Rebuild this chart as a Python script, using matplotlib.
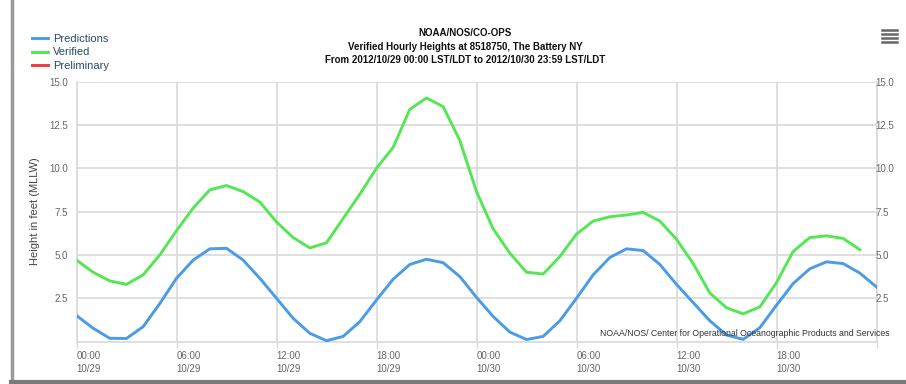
import pandas as pd
import matplotlib
matplotlib.use("Agg")
import matplotlib.pyplot as plt
import matplotlib.dates as mdates
from matplotlib.lines import Line2D

# hourly times, 2012/10/29 00:00 .. 2012/10/31 00:00
times = pd.date_range("2012-10-29 00:00", periods=49, freq="h")

# predicted tide (ft, MLLW)
predictions = [1.5, 0.77, 0.19, 0.18, 0.86, 2.2, 3.65, 4.7, 5.35, 5.38, 4.7, 3.65, 2.5,
               1.34, 0.48, 0.05, 0.3, 1.15, 2.4, 3.6, 4.45, 4.75, 4.55, 3.75, 2.55,
               1.45, 0.55, 0.12, 0.3, 1.2, 2.5, 3.85, 4.85, 5.35, 5.25, 4.45, 3.3,
               2.25, 1.2, 0.38, 0.13, 0.8, 2.1, 3.35, 4.2, 4.6, 4.5, 3.95, 3.15]

# verified hourly heights (ends at 23:00 10/30)
verified = [4.7, 4.0, 3.5, 3.3, 3.85, 5.0, 6.4, 7.7, 8.75, 9.0, 8.65, 8.05, 6.9,
            6.0, 5.4, 5.7, 7.1, 8.5, 10.0, 11.2, 13.4, 14.05, 13.55, 11.6, 8.65,
            6.5, 5.1, 4.0, 3.9, 4.9, 6.2, 6.95, 7.2, 7.3, 7.45, 6.95, 5.9,
            4.5, 2.8, 1.95, 1.6, 2.0, 3.4, 5.2, 6.0, 6.1, 5.95, 5.3]

preliminary = []

title_lines = ["NOAA/NOS/CO-OPS",
               "Verified Hourly Heights at 8518750, The Battery NY",
               "From 2012/10/29 00:00 LST/LDT to 2012/10/30 23:59 LST/LDT"]
y_ticks = [2.5, 5.0, 7.5, 10.0, 12.5, 15.0]

plt.rcParams['font.family'] = ['Liberation Sans', 'DejaVu Sans']

W, H = 906, 384
fig = plt.figure(figsize=(W / 100, H / 100), dpi=100)
fig.patch.set_facecolor('white')

# plot area in pixels: x 76.5..876.5, y 81.5..341.6
ax = fig.add_axes([76.5 / W, 1 - 341.6 / H, 800 / W, 260.1 / H])
ax.set_facecolor('white')

grid_c = '#d9d9d9'
ax.plot(times, predictions, color='#4a9be8', lw=2.1, label='Predictions', zorder=3)
ax.plot(times[:len(verified)], verified, color='#55e655', lw=2.1, label='Verified', zorder=3)
ax.plot(times[:len(preliminary)], preliminary, color='#f03c3c', lw=2.1, label='Preliminary')

ax.set_xlim(times[0], times[-1])
ax.set_ylim(0, 15)
ax.set_yticks(y_ticks)
ax.set_yticklabels(['%.1f' % v for v in y_ticks])
ax.tick_params(axis='y', length=0, pad=6, labelsize=7, labelcolor='#666666')

ax.xaxis.set_major_locator(mdates.HourLocator(byhour=[0, 6, 12, 18]))
ax.xaxis.set_major_formatter(mdates.DateFormatter('%H:%M\n%m/%d'))
ax.tick_params(axis='x', length=4, width=1, color=grid_c, pad=3, labelsize=7, labelcolor='#666666')
for lab in ax.get_xticklabels():
    lab.set_ha('left')
    lab.set_linespacing(1.3)
# last tick (00:00 10/31) has no label
ax.get_xticklabels()[-1].set_visible(False)

ax.grid(True, color=grid_c, lw=1.2)
ax.set_axisbelow(True)
for s in ax.spines.values():
    s.set_color(grid_c)
    s.set_linewidth(1.2)
ax.spines['top'].set_visible(False)

ax.set_ylabel('Height in feet (MLLW)', fontsize=8, color='#444444', labelpad=7)

# right axis, same scale
ax2 = ax.twinx()
ax2.set_ylim(0, 15)
ax2.set_yticks(y_ticks)
ax2.set_yticklabels(['%.1f' % v for v in y_ticks])
ax2.tick_params(axis='y', length=0, pad=-1, labelsize=7, labelcolor='#666666')
for s in ax2.spines.values():
    s.set_visible(False)

# credit text
ax.text(890 / W, 1 - 333.5 / H, 'NOAA/NOS/ Center for Operational Oceanographic Products and Services',
        transform=fig.transFigure, ha='right', va='center', fontsize=6.3, color='#333333')

# title
for i, t in enumerate(title_lines):
    fig.text(465 / W, 1 - (33 + 13.5 * i) / H, t, ha='center', va='center',
             fontsize=7, fontweight='bold', color='#111111')

# legend
leg = ax.legend(loc='upper left', bbox_to_anchor=(26 / W, 1 - 28 / H),
                bbox_transform=fig.transFigure, frameon=False, fontsize=8,
                handlelength=1.5, handletextpad=0.4, labelspacing=0.35, borderpad=0)
for t in leg.get_texts():
    t.set_color('#274b6d')

# export menu icon
for yy in [29.5, 33.5, 37.5, 41.5]:
    fig.add_artist(Line2D([882 / W, 897 / W], [1 - yy / H, 1 - yy / H],
                          color='#666666', lw=1.8, transform=fig.transFigure))

# screenshot frame
fig.add_artist(Line2D([11.5 / W, 11.5 / W], [0, 1], color='#9a9a9a', lw=2.5,
                      transform=fig.transFigure))
fig.add_artist(Line2D([11 / W, 1], [1 - 381.5 / H, 1 - 381.5 / H], color='#7a7a7a', lw=3,
                      transform=fig.transFigure))

fig.savefig('out.png', dpi=100)
